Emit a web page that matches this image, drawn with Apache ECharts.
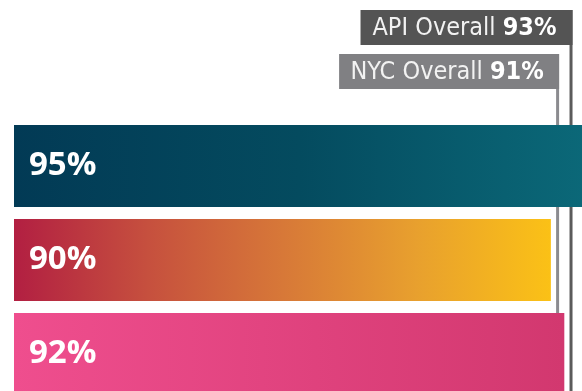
<!DOCTYPE html>
<html>
<head>
<meta charset="utf-8">
<style>
  html, body { margin: 0; padding: 0; background: #ffffff; }
  #chart { width: 582px; height: 391px; }
</style>
<script src="https://cdn.jsdelivr.net/npm/echarts@6/dist/echarts.min.js"></script>
</head>
<body>
<div id="chart"></div>
<script>
// Rate per group (percent)
var categories = ['Group A', 'Group B', 'Group C'];
var values = [95, 90, 92];

// Overall benchmark lines
var refNames = ['NYC Overall', 'API Overall'];
var refValues = [91, 93];

// Horizontal gradient stops for each bar
var barGradients = [
  [[0, '#023a55'], [0.5, '#044b5f'], [1, '#0b6878']],
  [[0, '#b21f42'], [0.25, '#c6503e'], [0.5, '#d77838'], [0.75, '#e8a02e'], [1, '#fbc116']],
  [[0, '#ef4e8e'], [1, '#d2386f']]
];

// Look of the benchmark tags (pixel layout)
var refStyle = [
  { top: 54, height: 35, width: 220, fill: '#808083', line: '#8b8b8f' },
  { top: 10, height: 35, width: 212, fill: '#545454', line: '#5b5b5b' }
];

var tagFont = '"Liberation Sans Narrow", "DejaVu Sans Condensed", sans-serif';

function gradient(stops) {
  return new echarts.graphic.LinearGradient(0, 0, 1, 0,
    stops.map(function (s) { return { offset: s[0], color: s[1] }; }));
}

var chart = echarts.init(document.getElementById('chart'), null, { renderer: 'canvas' });

chart.setOption({
  animation: false,
  grid: {
    left: 14, top: 119, width: 604, height: 282,
    containLabel: false, outerBoundsMode: 'none'
  },
  xAxis: {
    type: 'value', min: 10, max: 100, show: false
  },
  yAxis: {
    type: 'category', data: categories, inverse: true, show: false
  },
  series: [
    {
      type: 'custom',
      z: 1,
      clip: false,
      data: refValues.map(function (v, i) { return [v, i]; }),
      renderItem: function (params, api) {
        var i = params.dataIndex;
        var s = refStyle[i];
        var x = api.coord([api.value(0), 0])[0];
        var right = x + 1.5;
        return {
          type: 'group',
          children: [
            {
              type: 'line',
              shape: { x1: x, y1: s.top, x2: x, y2: api.getHeight() },
              style: { stroke: s.line, lineWidth: 3 }
            },
            {
              type: 'rect',
              shape: { x: right - s.width, y: s.top, width: s.width, height: s.height },
              style: { fill: s.fill }
            },
            {
              type: 'text',
              x: right - s.width / 2 - 2,
              y: s.top + s.height / 2 + 1,
              style: {
                text: '{n|' + refNames[i] + ' }{b|' + refValues[i] + '%}',
                align: 'center',
                verticalAlign: 'middle',
                rich: {
                  n: { fontFamily: tagFont, fontSize: 25, fill: '#f2f2f2', color: '#f2f2f2' },
                  b: { fontFamily: tagFont, fontSize: 25, fontWeight: 'bold', fill: '#ffffff', color: '#ffffff' }
                }
              }
            }
          ]
        };
      }
    },
    {
      type: 'bar',
      z: 2,
      barWidth: 82,
      data: values.map(function (v, i) {
        return { value: v, itemStyle: { color: gradient(barGradients[i]) } };
      }),
      label: {
        show: true,
        position: 'insideLeft',
        distance: 15,
        formatter: '{c}%',
        color: '#ffffff',
        fontFamily: '"Open Sans", sans-serif',
        fontWeight: 'bold',
        fontSize: 33
      }
    }
  ]
});
</script>
</body>
</html>
